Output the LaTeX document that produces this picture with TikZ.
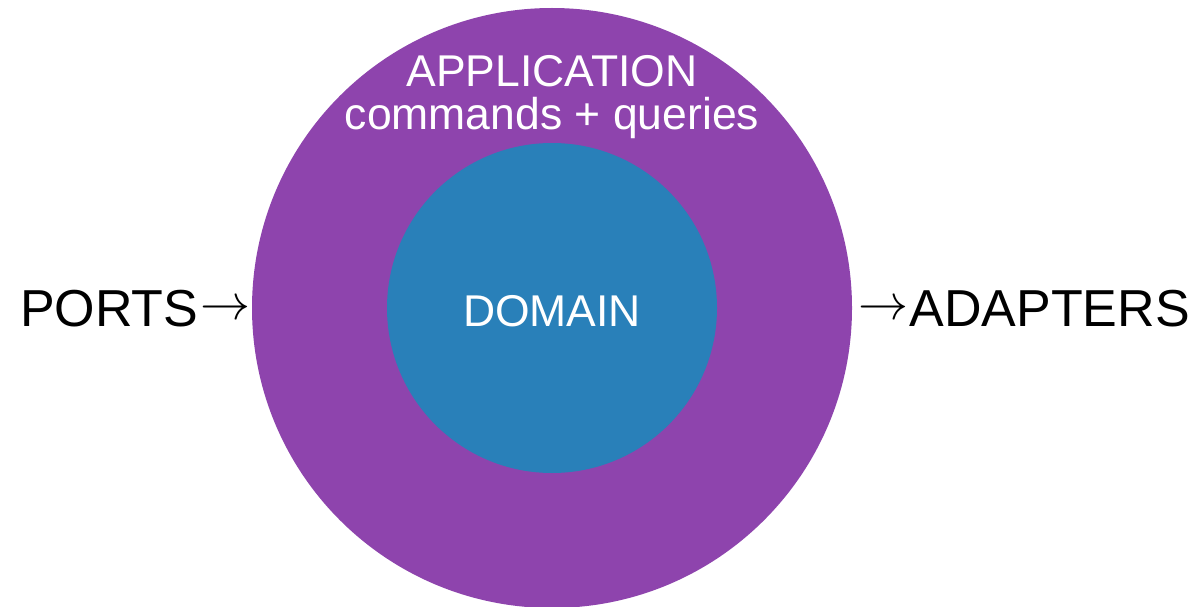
\documentclass[tikz,border=0pt]{standalone}
\usepackage{graphicx}
\usepackage{fontspec}
\setmainfont{Liberation Sans}
\definecolor{apppurple}{HTML}{8E44AD}
\definecolor{domblue}{HTML}{2980B9}
\newcommand{\sidearrow}{\raisebox{6.5pt}{\scalebox{5.0}{\normalsize$\rightarrow$}}}
\begin{document}
\begin{tikzpicture}[x=1pt,y=-1pt,
  ring/.style={circle,inner sep=0pt,minimum size=#1},
  whitetxt/.style={text=white,inner sep=0pt,font=\fontsize{44.5}{43}\selectfont,align=center},
  sidetxt/.style={text=black,inner sep=0pt,font=\fontsize{52}{52}\selectfont}]
\useasboundingbox (0,0) rectangle (1196,607);
\node[ring=600pt,fill=apppurple] (app) at (552,308) {};
\node[ring=330pt,fill=domblue] (dom) at (552,308) {};
\node[whitetxt,anchor=base] (apptitle) at (552,87) {APPLICATION};
\node[whitetxt,anchor=base] (appsub) at (552,130) {commands + queries};
\node[whitetxt,anchor=base] (domtxt) at (552,326) {DOMAIN};
\node[sidetxt,anchor=base west] (ports) at (20,326) {PORTS\kern2pt\sidearrow};
\node[sidetxt,anchor=base east] (adapters) at (1190,326) {\sidearrow\kern1pt ADAPTERS};
\end{tikzpicture}
\end{document}
